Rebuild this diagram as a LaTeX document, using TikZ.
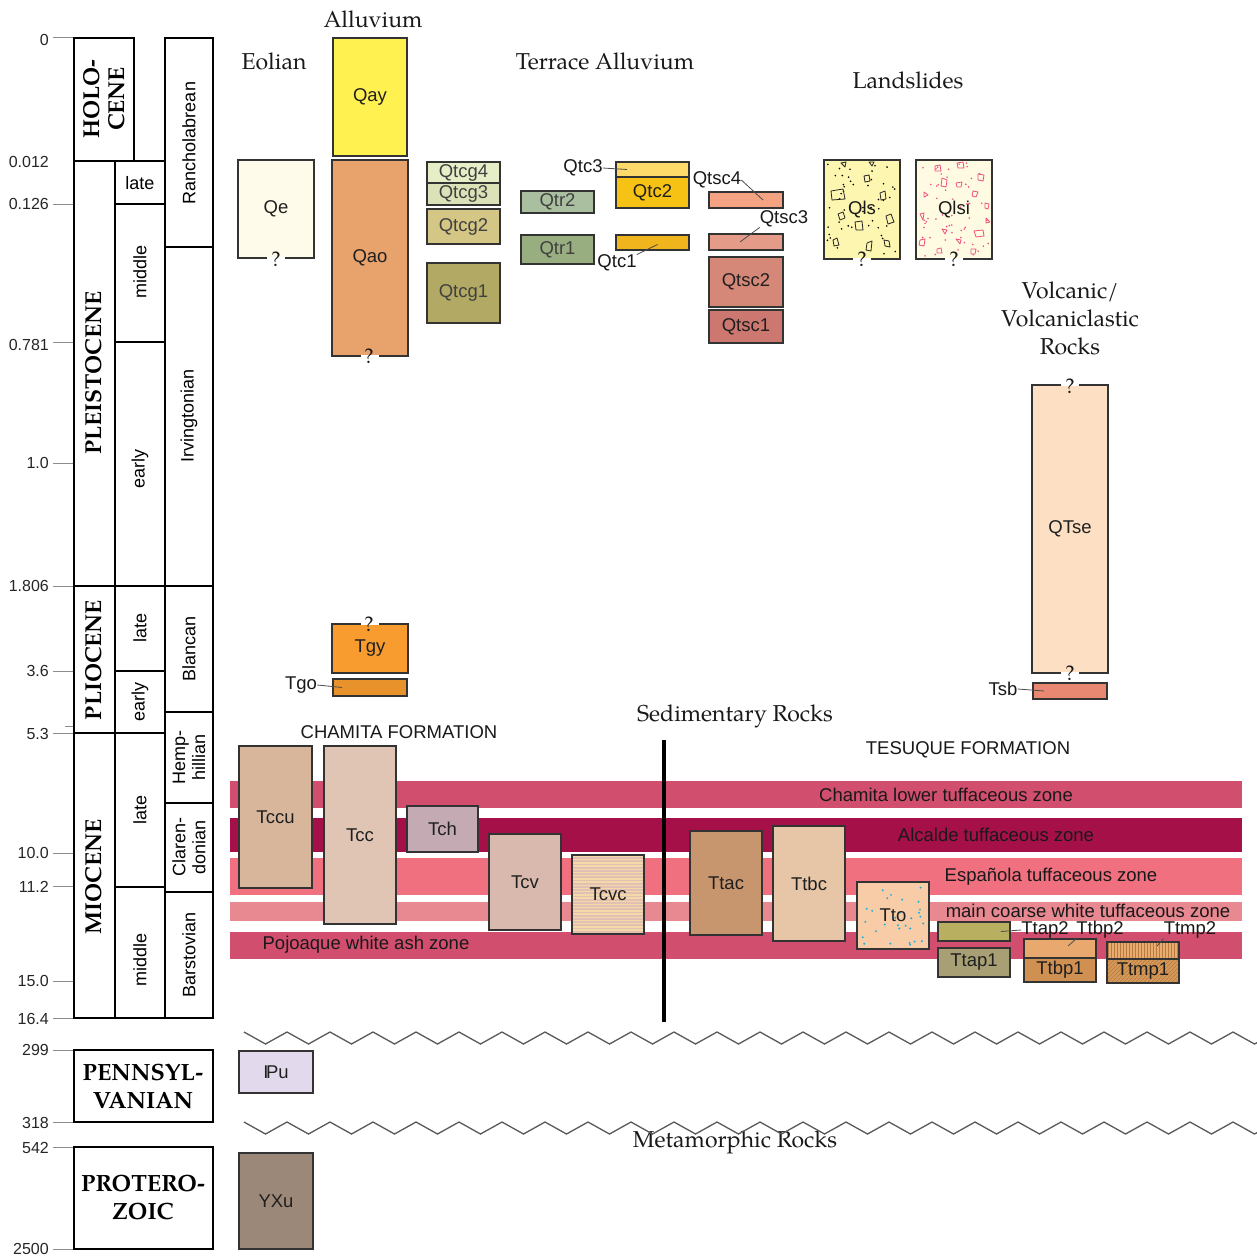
\documentclass[tikz,border=0pt]{standalone}
\usepackage{fontspec}
\setmainfont{texgyrepagella}[Extension=.otf,UprightFont=*-regular,BoldFont=*-bold,ItalicFont=*-italic,BoldItalicFont=*-bolditalic]
\setsansfont{Liberation Sans}
\usetikzlibrary{calc}
\definecolor{cQe}{HTML}{FEFBEA}
\definecolor{cQay}{HTML}{FFF250}
\definecolor{cQao}{HTML}{E8A26C}
\definecolor{cQtcgA}{HTML}{E6EEC8}
\definecolor{cQtcgB}{HTML}{DCE2B8}
\definecolor{cQtcgC}{HTML}{D4C684}
\definecolor{cQtcgD}{HTML}{B2AA64}
\definecolor{cQtrB}{HTML}{A9BFA0}
\definecolor{cQtrA}{HTML}{98AE80}
\definecolor{cQtcC}{HTML}{FDDA6A}
\definecolor{cQtcB}{HTML}{F6C214}
\definecolor{cQtcA}{HTML}{F0B41C}
\definecolor{cQtscD}{HTML}{F3A382}
\definecolor{cQtscC}{HTML}{E49C88}
\definecolor{cQtscB}{HTML}{D68878}
\definecolor{cQtscA}{HTML}{CC7870}
\definecolor{cQls}{HTML}{FDF6B0}
\definecolor{cQlsi}{HTML}{FFFBE2}
\definecolor{cQTse}{HTML}{FDDFC4}
\definecolor{cTsb}{HTML}{E88872}
\definecolor{cTgy}{HTML}{F89C30}
\definecolor{cTgo}{HTML}{E8922C}
\definecolor{cTccu}{HTML}{D7B69C}
\definecolor{cTcc}{HTML}{E0C4B4}
\definecolor{cTch}{HTML}{C4AAB2}
\definecolor{cTcv}{HTML}{D9B9AD}
\definecolor{cTcvc}{HTML}{E3C0B4}
\definecolor{cTcvcS}{HTML}{F3D8A8}
\definecolor{cTtac}{HTML}{C8966E}
\definecolor{cTtbc}{HTML}{E6C6A6}
\definecolor{cTto}{HTML}{F8CCA6}
\definecolor{cTtoD}{HTML}{1EAEDC}
\definecolor{cTtapB}{HTML}{B8B060}
\definecolor{cTtapA}{HTML}{A8A074}
\definecolor{cTtbpB}{HTML}{E8A86E}
\definecolor{cTtbpA}{HTML}{D09052}
\definecolor{cTtmpB}{HTML}{E8AC70}
\definecolor{cTtmpA}{HTML}{D49858}
\definecolor{cTtmpL}{HTML}{B87A3E}
\definecolor{cPu}{HTML}{E2DAEC}
\definecolor{cYXu}{HTML}{9C8878}
\definecolor{bandA}{HTML}{D24E6E}
\definecolor{bandB}{HTML}{A51048}
\definecolor{bandC}{HTML}{F07080}
\definecolor{bandD}{HTML}{E88890}
\definecolor{pinkQ}{HTML}{F0507E}
\newcommand\ubox[8][]{\node[ubox, fill=#7, minimum width=#5pt-#3pt, minimum height=#6pt-#4pt, #1] (#2) at ({(#3+#5)/2},{(#4+#6)/2}) {#8};}
\tikzset{
  ubox/.style={draw=black!80, line width=1.6pt, inner sep=0pt, font=\sffamily\fontsize{18.5}{20}\selectfont, text=black!88},
  bd/.style={draw=black!80, line width=1.6pt},
  col/.style={draw=black, line width=2pt, fill=white, inner sep=0pt},
  epoch/.style={font=\bfseries\fontsize{23}{25}\selectfont, align=center, rotate=90, inner sep=0pt},
  era/.style={font=\bfseries\fontsize{23.5}{28}\selectfont, align=center, inner sep=0pt},
  stage/.style={font=\sffamily\fontsize{18}{20}\selectfont, align=center, rotate=90, inner sep=0pt},
  stageh/.style={font=\sffamily\fontsize{18}{20}\selectfont, inner sep=0pt},
  ticklab/.style={font=\sffamily\fontsize{16}{17}\selectfont, anchor=east, text=black!85, inner sep=0pt},
  tickln/.style={draw=black!45, line width=1pt},
  head/.style={font=\fontsize{23}{28}\selectfont, align=center, text=black!90, inner sep=0pt},
  qm/.style={font=\fontsize{21}{22}\selectfont, text=black!90, inner sep=0pt},
  sans/.style={font=\sffamily\fontsize{18.5}{20}\selectfont, text=black!90, inner sep=0pt},
  leader/.style={draw=black!70, line width=0.8pt},
  zig/.style={draw=black!65, line width=1.3pt},
}
\begin{document}
\begin{tikzpicture}[x=1pt,y=-1pt]
\useasboundingbox (0,0) rectangle (1256,1260);
\fill[white] (0,0) rectangle (1256,1260);

% ---------- time scale ----------
\foreach \yy/\tl/\ly in {38/0/40, 204/0.126/204, 342/0.781/345, 463/1.0/463, 586/1.806/586, 671/3.6/671, 733/5.3/734, 853/10.0/853, 886/11.2/887, 981/15.0/981, 1018/16.4/1019, 1050/299/1050, 1122/318/1123, 1147/542/1148, 1249/2500/1249}{
  \draw[tickln] (53,\yy) -- (74,\yy);
  \node[ticklab] (tk\yy) at (49,\ly) {\tl};
}
\node[ticklab] (tk161) at (49,162) {0.012};
\draw[tickln] (65,726) -- (74,726);

\ubox[col]{hol}{74}{38}{134}{161}{white}{}
\ubox[col]{ple}{74}{161}{115}{586}{white}{}
\ubox[col]{plio}{74}{586}{115}{733}{white}{}
\ubox[col]{mio}{74}{733}{115}{1018}{white}{}
\ubox[col]{plLate}{115}{161}{165}{204}{white}{}
\ubox[col]{plMid}{115}{204}{165}{342}{white}{}
\ubox[col]{plEarly}{115}{342}{165}{586}{white}{}
\ubox[col]{pliLate}{115}{586}{165}{671}{white}{}
\ubox[col]{pliEarly}{115}{671}{165}{733}{white}{}
\ubox[col]{mioLate}{115}{733}{165}{887}{white}{}
\ubox[col]{mioMid}{115}{887}{165}{1018}{white}{}
\ubox[col]{ranch}{165}{38}{213}{247}{white}{}
\ubox[col]{irv}{165}{247}{213}{586}{white}{}
\ubox[col]{blan}{165}{586}{213}{712}{white}{}
\ubox[col]{hemp}{165}{712}{213}{803}{white}{}
\ubox[col]{clar}{165}{803}{213}{892}{white}{}
\ubox[col]{bars}{165}{892}{213}{1018}{white}{}
\ubox[col]{penn}{74}{1050}{213}{1122}{white}{}
\ubox[col]{prot}{74}{1147}{213}{1249}{white}{}

\node[epoch] (holT) at (104,99) {HOLO-\\CENE};
\node[epoch] (pleT) at (94,373) {PLEISTOCENE};
\node[epoch] (plioT) at (94,660) {PLIOCENE};
\node[epoch] (mioT) at (94,877) {MIOCENE};
\node[stageh] (plLateT) at (140,183) {late};
\node[stage] (plMidT) at (140,272) {middle};
\node[stage] (plEarlyT) at (140,469) {early};
\node[stage] (pliLateT) at (140,628) {late};
\node[stage] (pliEarlyT) at (140,702) {early};
\node[stage] (mioLateT) at (140,810) {late};
\node[stage] (mioMidT) at (140,960) {middle};
\node[stage] (ranchT) at (189,143) {Rancholabrean};
\node[stage] (irvT) at (189,416) {Irvingtonian};
\node[stage] (blanT) at (189,649) {Blancan};
\node[stage] (hempT) at (189,757) {Hemp-\\hillian};
\node[stage] (clarT) at (189,847) {Claren-\\donian};
\node[stage] (barsT) at (189,955) {Barstovian};
\node[era] (pennT) at (143,1087) {PENNSYL-\\VANIAN};
\node[era] (protT) at (143,1198) {PROTERO-\\ZOIC};

% ---------- headings ----------
\node[head] (hAll) at (373,19) {Alluvium};
\node[head] (hEol) at (274,61) {Eolian};
\node[head] (hTer) at (605,61) {Terrace Alluvium};
\node[head] (hLan) at (908,80) {Landslides};
\node[head] (hVol) at (1070,318) {Volcanic/\\Volcaniclastic\\Rocks};
\node[head] (hSed) at (735,716) {Sedimentary Rocks};
\node[head] (hMet) at (735,1142) {Metamorphic Rocks};
\node[sans] (hCha) at (399,732) {CHAMITA FORMATION};
\node[sans] (hTes) at (968,750) {TESUQUE FORMATION};

% ---------- Quaternary ----------
\ubox[draw=none]{Qe}{239}{161}{313}{257}{cQe}{Qe}
\draw[bd] ([xshift=-9pt]Qe.south) -| (Qe.north west) -| (Qe.south east) -- ([xshift=9pt]Qe.south);
\node[qm] (qQe) at (276,259) {?};
\ubox{Qay}{333}{38}{407}{156}{cQay}{Qay}
\ubox[draw=none]{Qao}{333}{161}{407}{355}{cQao}{Qao}
\draw[bd] ([xshift=-9pt]Qao.south) -| (Qao.north west) -| (Qao.south east) -- ([xshift=9pt]Qao.south);
\node[qm] (qQao) at (369,356) {?};
\ubox[text=black!75]{Qtcg4}{427}{162}{500}{183}{cQtcgA}{Qtcg4}
\ubox[text=black!75]{Qtcg3}{427}{183}{500}{205}{cQtcgB}{Qtcg3}
\ubox[text=black!75]{Qtcg2}{427}{209}{500}{244}{cQtcgC}{Qtcg2}
\ubox[text=black!75]{Qtcg1}{427}{263}{500}{323}{cQtcgD}{Qtcg1}
\ubox[text=black!75]{Qtr2}{521}{191}{594}{213}{cQtrB}{Qtr2}
\ubox[text=black!75]{Qtr1}{521}{235}{594}{264}{cQtrA}{Qtr1}
\ubox{Qtc3}{616}{162}{689}{177}{cQtcC}{}
\ubox{Qtc2}{616}{177}{689}{208}{cQtcB}{Qtc2}
\ubox{Qtc1}{616}{235}{689}{250}{cQtcA}{}
\ubox{Qtsc4}{709}{192}{783}{208}{cQtscD}{}
\ubox{Qtsc3}{709}{234}{783}{250}{cQtscC}{}
\ubox{Qtsc2}{709}{257}{783}{307}{cQtscB}{Qtsc2}
\ubox{Qtsc1}{709}{310}{783}{343}{cQtscA}{Qtsc1}
\node[sans] (lQtc3) at (583,168) {Qtc3};
\draw[leader] (lQtc3.east) -- ([xshift=12pt]Qtc3.west);
\node[sans] (lQtc1) at (617,263) {Qtc1};
\draw[leader] (lQtc1.north east) -- ($(Qtc1.center)+(5,2)$);
\node[sans] (lQtsc4) at (717,180) {Qtsc4};
\draw[leader] (lQtsc4.east) -- ($(Qtsc4.center)+(17,0)$);
\node[sans] (lQtsc3) at (784,219) {Qtsc3};
\draw[leader] (lQtsc3.south west) -- ($(Qtsc3.center)+(-6,0)$);

% landslides
\ubox[draw=none, path picture={\pgfmathsetseed{11}\foreach \k in {1,...,48}{\fill[black] ($(path picture bounding box.north west)+(2+rnd*70,2+rnd*93)$) circle (0.9);}}]{Qls}{825}{161}{899}{258}{cQls}{}
\draw[black!85, line width=0.8pt, line join=round]
 (831,191)--(843,189)--(845,199)--(832,200)--cycle
 (864,176)--(869,175)--(870,181)--(865,182)--cycle
 (880,193)--(885,191)--(886,199)--(881,200)--cycle
 (838,214)--(843,212)--(845,218)--(840,220)--cycle
 (855,222)--(862,221)--(863,230)--(856,230)--cycle
 (886,216)--(891,214)--(894,222)--(888,224)--cycle
 (833,240)--(837,238)--(839,245)--(834,246)--cycle
 (867,243)--(872,241)--(871,251)--(866,250)--cycle
 (884,240)--(889,241)--(890,247)--(885,246)--cycle
 (841,163)--(846,162)--(845,167)--cycle
 (869,162)--(874,162)--(872,166)--cycle;
\node[sans] (QlsT) at (Qls.center) {Qls};
\draw[bd] ([xshift=-9pt]Qls.south) -| (Qls.north west) -| (Qls.south east) -- ([xshift=9pt]Qls.south);
\node[qm] (qQls) at (862,259) {?};

\ubox[draw=none, path picture={\pgfmathsetseed{5}\foreach \k in {1,...,55}{\fill[pinkQ] ($(path picture bounding box.north west)+(2+rnd*70,2+rnd*93)$) circle (0.9);}}]{Qlsi}{917}{161}{991}{258}{cQlsi}{}
\draw[pinkQ, line width=0.8pt, line join=round]
 (935,166)--(940,165)--(941,171)--(935,171)--cycle
 (957,163)--(963,162)--(964,168)--(958,168)--cycle
 (978,174)--(984,175)--(983,181)--(978,180)--cycle
 (942,178)--(947,180)--(946,187)--(941,186)--cycle
 (956,183)--(962,182)--(961,187)--(957,187)--cycle
 (924,192)--(928,195)--(924,197)--cycle
 (973,191)--(978,192)--(976,197)--(972,196)--cycle
 (985,203)--(989,204)--(988,209)--(985,208)--cycle
 (920,214)--(924,213)--(923,220)--cycle
 (986,218)--(990,222)--(986,223)--cycle
 (942,229)--(947,230)--(945,234)--cycle
 (974,231)--(983,230)--(984,236)--(976,237)--cycle
 (920,240)--(925,239)--(924,246)--(919,245)--cycle
 (937,249)--(941,248)--(942,253)--(937,253)--cycle
 (956,239)--(961,240)--(960,244)--cycle
 (971,249)--(976,249)--(975,254)--(971,254)--cycle;
\node[sans] (QlsiT) at (Qlsi.center) {Qlsi};
\draw[bd] ([xshift=-9pt]Qlsi.south) -| (Qlsi.north west) -| (Qlsi.south east) -- ([xshift=9pt]Qlsi.south);
\node[qm] (qQlsi) at (954,259) {?};

% volcanic
\ubox[draw=none]{QTse}{1033}{386}{1107}{672}{cQTse}{QTse}
\draw[bd] ([xshift=-9pt]QTse.north) -- (QTse.north west) -- (QTse.south west) -- ([xshift=-9pt]QTse.south);
\draw[bd] ([xshift=9pt]QTse.north) -- (QTse.north east) -- (QTse.south east) -- ([xshift=9pt]QTse.south);
\node[qm] (qQTseA) at (1070,386) {?};
\node[qm] (qQTseB) at (1070,673) {?};
\ubox{Tsb}{1033}{683}{1107}{699}{cTsb}{}
\node[sans] (lTsb) at (1003,689) {Tsb};
\draw[leader] (lTsb.east) -- ([xshift=12pt]Tsb.west);

% Tgy Tgo
\ubox[draw=none]{Tgy}{333}{625}{407}{672}{cTgy}{Tgy}
\draw[bd] ([xshift=9pt]Tgy.north) -| (Tgy.south east) -| (Tgy.north west) -- ([xshift=-9pt]Tgy.north);
\node[qm] (qTgy) at (369,624) {?};
\ubox{Tgo}{333}{679}{407}{696}{cTgo}{}
\node[sans] (lTgo) at (301,685) {Tgo};
\draw[leader] (lTgo.east) -- ([xshift=10pt]Tgo.west);

% ---------- Tertiary bands ----------
\fill[bandA] (230,781) rectangle (1242,808);
\fill[bandB] (230,818) rectangle (1242,852);
\fill[bandC] (230,858) rectangle (1242,895);
\fill[bandD] (230,902) rectangle (1242,921);
\fill[bandA] (230,932) rectangle (1242,959);
\node[sans] (bl1) at (946,795) {Chamita lower tuffaceous zone};
\node[sans] (bl2) at (996,835) {Alcalde tuffaceous zone};
\node[sans] (bl3) at (1051,877) {Española tuffaceous zone};
\node[sans] (bl4) at (1088,911) {main coarse white tuffaceous zone};
\node[sans] (bl5) at (366,945) {Pojoaque white ash zone};

\draw[line width=3.5pt] (664,740) -- (664,1022);

% Chamita units
\ubox{Tccu}{239}{746}{312}{888}{cTccu}{Tccu}
\ubox{Tcc}{324}{746}{396}{924}{cTcc}{Tcc}
\ubox{Tch}{407}{806}{478}{852}{cTch}{Tch}
\ubox{Tcv}{489}{834}{561}{930}{cTcv}{Tcv}
\ubox[path picture={\foreach \k in {0,...,25}{\draw[cTcvcS, line width=1.3pt] ([yshift=-\k*3.2pt-1.5pt]path picture bounding box.north west) -- ++(80,0);}}]{Tcvc}{572}{855}{644}{934}{cTcvc}{Tcvc}

% Tesuque units
\ubox{Ttac}{690}{831}{762}{935}{cTtac}{Ttac}
\ubox{Ttbc}{773}{826}{845}{941}{cTtbc}{Ttbc}
\ubox[path picture={\pgfmathsetseed{3}\foreach \k in {1,...,30}{\fill[cTtoD] ($(path picture bounding box.north west)+(3+rnd*66,3+rnd*61)$) circle (1.1);}}]{Tto}{857}{882}{929}{949}{cTto}{Tto}
\ubox{Ttap2}{938}{922}{1010}{941}{cTtapB}{}
\ubox{Ttap1}{938}{948}{1010}{977}{cTtapA}{Ttap1}
\ubox{Ttbp2}{1024}{939}{1096}{958}{cTtbpB}{}
\ubox{Ttbp1}{1024}{958}{1096}{982}{cTtbpA}{Ttbp1}
\ubox[path picture={\foreach \k in {0,...,24}{\draw[cTtmpL, line width=0.6pt] ([xshift=\k*3pt+1.5pt]path picture bounding box.north west) -- ++(0,20);}}]{Ttmp2}{1107}{942}{1179}{959}{cTtmpB}{}
\ubox[path picture={\foreach \k in {-10,...,25}{\draw[cTtmpL, line width=0.6pt] ($(path picture bounding box.south west)+(\k*4,0)$) -- ++(30,-30);}}]{Ttmp1}{1107}{959}{1179}{983}{cTtmpA}{Ttmp1}
\node[sans] (lTtap2) at (1045,930) {Ttap2};
\draw[leader] (lTtap2.west) -- ([xshift=-10pt]Ttap2.east);
\node[sans] (lTtbp2) at (1100,930) {Ttbp2};
\draw[leader] (lTtbp2.south west) -- ($(Ttbp2.center)+(8,-2.5)$);
\node[sans] (lTtmp2) at (1190,930) {Ttmp2};
\draw[leader] (lTtmp2.south west) -- ($(Ttmp2.center)+(14,-4.5)$);

% ---------- unconformities ----------
\draw[zig] (244,1032) \foreach \i in {1,...,48}{ -- ({244+\i*21.5},{1032+12*mod(\i,2)}) };
\draw[zig] (244,1122) \foreach \i in {1,...,48}{ -- ({244+\i*21.5},{1122+12*mod(\i,2)}) };

\ubox{Pu}{239}{1051}{313}{1093}{cPu}{\rlap{I}\kern0.15em Pu}
\ubox{YXu}{239}{1153}{313}{1249}{cYXu}{YXu}
\end{tikzpicture}
\end{document}
